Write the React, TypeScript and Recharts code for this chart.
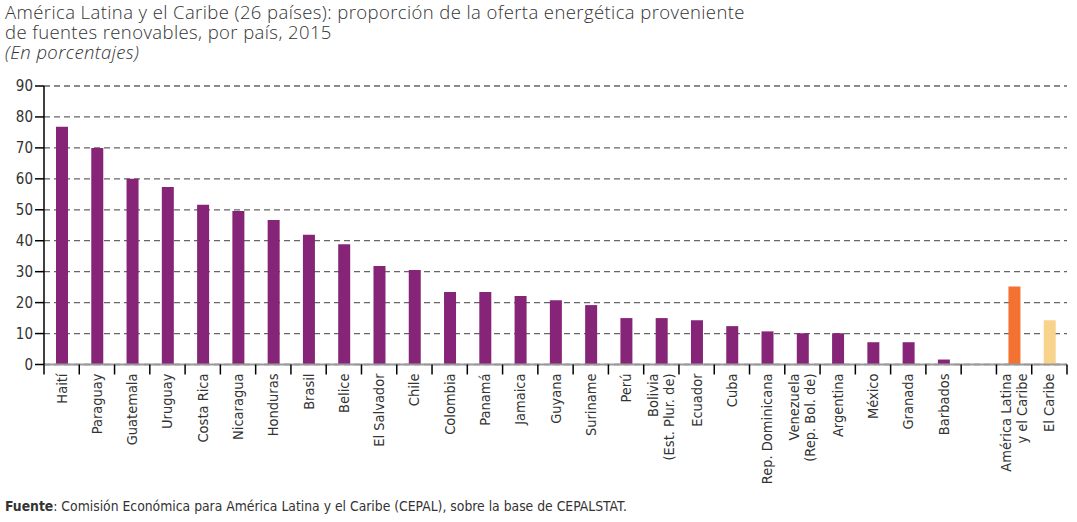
import { BarChart, Bar, XAxis, YAxis, CartesianGrid, Cell } from "recharts";

// Países y agregados (una categoría vacía separa los dos grupos)
const countries = [
  "Haití",
  "Paraguay",
  "Guatemala",
  "Uruguay",
  "Costa Rica",
  "Nicaragua",
  "Honduras",
  "Brasil",
  "Belice",
  "El Salvador",
  "Chile",
  "Colombia",
  "Panamá",
  "Jamaica",
  "Guyana",
  "Suriname",
  "Perú",
  "Bolivia\n(Est. Plur. de)",
  "Ecuador",
  "Cuba",
  "Rep. Dominicana",
  "Venezuela\n(Rep. Bol. de)",
  "Argentina",
  "México",
  "Granada",
  "Barbados",
  "",
  "América Latina\ny el Caribe",
  "El Caribe",
];

const renewableShare = [
  76.8, 70.0, 60.0, 57.4, 51.6, 49.6, 46.7, 41.9, 38.9, 31.8, 30.5, 23.4, 23.4,
  22.1, 20.8, 19.2, 15.0, 15.0, 14.3, 12.4, 10.7, 10.1, 10.1, 7.2, 7.2, 1.6,
  null, 25.2, 14.3,
];

const yTicks = [0, 10, 20, 30, 40, 50, 60, 70, 80, 90];

const data = countries.map((name, i) => ({ name, value: renewableShare[i] }));

const W = 1077;
const H = 522;
const LEFT = 44;
const RIGHT = 10;
const band = (W - LEFT - RIGHT) / countries.length;

const barColor = (name: string) => {
  if (name.startsWith("América Latina")) return "#f37232";
  if (name === "El Caribe") return "#f8d38c";
  return "#862578";
};

const labelFont = "'Liberation Sans Narrow', 'DejaVu Sans Condensed', 'Roboto Condensed', Roboto, sans-serif";

function CategoryTick(props: any) {
  const { x, y, payload, index } = props;
  const lines: string[] = String(payload.value).split("\n");
  const left = x - band / 2;
  const isLast = index === countries.length - 1;
  return (
    <g>
      <line x1={left} y1={y} x2={left} y2={y + 10} stroke="#000" strokeWidth={1.5} />
      {isLast && (
        <line x1={left + band} y1={y} x2={left + band} y2={y + 10} stroke="#000" strokeWidth={1.5} />
      )}
      {lines.map((ln, i) => (
        <text
          key={i}
          transform={`translate(${x + (i - (lines.length - 1) / 2) * 16 + 5},${y + 9}) rotate(-90)`}
          textAnchor="end"
          fontSize={14.5}
          fontFamily={labelFont}
          fill="#333"
        >
          {ln}
        </text>
      ))}
    </g>
  );
}

export default function App() {
  return (
    <div style={{ position: "absolute", left: 0, top: 0, width: W, height: H, background: "#fff" }}>
      <div
        style={{
          position: "absolute",
          left: 5,
          top: 2,
          fontFamily: "'Open Sans', sans-serif",
          fontWeight: 300,
          fontSize: 18.5,
          letterSpacing: 0.4,
          lineHeight: "20px",
          color: "#333",
        }}
      >
        <div>América Latina y el Caribe (26 países): proporción de la oferta energética proveniente</div>
        <div>de fuentes renovables, por país, 2015</div>
        <div style={{ fontStyle: "italic" }}>(En porcentajes)</div>
      </div>

      <BarChart
        width={W}
        height={H}
        data={data}
        margin={{ top: 86, right: RIGHT, bottom: 0, left: 0 }}
        barSize={12}
      >
        <CartesianGrid vertical={false} stroke="#666" strokeDasharray="6 4" strokeWidth={1.3} />
        <XAxis
          dataKey="name"
          interval={0}
          height={157.5}
          tickSize={0}
          tickMargin={0}
          tickLine={false}
          axisLine={{ stroke: "#999", strokeWidth: 2 }}
          tick={<CategoryTick />}
        />
        <YAxis
          width={LEFT}
          domain={[0, 90]}
          ticks={yTicks}
          interval={0}
          tickSize={9}
          tickMargin={2}
          axisLine={{ stroke: "#000", strokeWidth: 1.5 }}
          tickLine={{ stroke: "#000", strokeWidth: 1.5 }}
          tick={{ fontSize: 15, fontFamily: labelFont, fill: "#333" }}
        />
        <Bar dataKey="value" isAnimationActive={false}>
          {data.map((d, i) => (
            <Cell key={i} fill={barColor(d.name)} />
          ))}
        </Bar>
      </BarChart>

      <div
        style={{
          position: "absolute",
          left: 5,
          top: 498,
          fontFamily: labelFont,
          fontSize: 13.8,
          color: "#333",
        }}
      >
        <b>Fuente</b>: Comisión Económica para América Latina y el Caribe (CEPAL), sobre la base de CEPALSTAT.
      </div>
    </div>
  );
}
